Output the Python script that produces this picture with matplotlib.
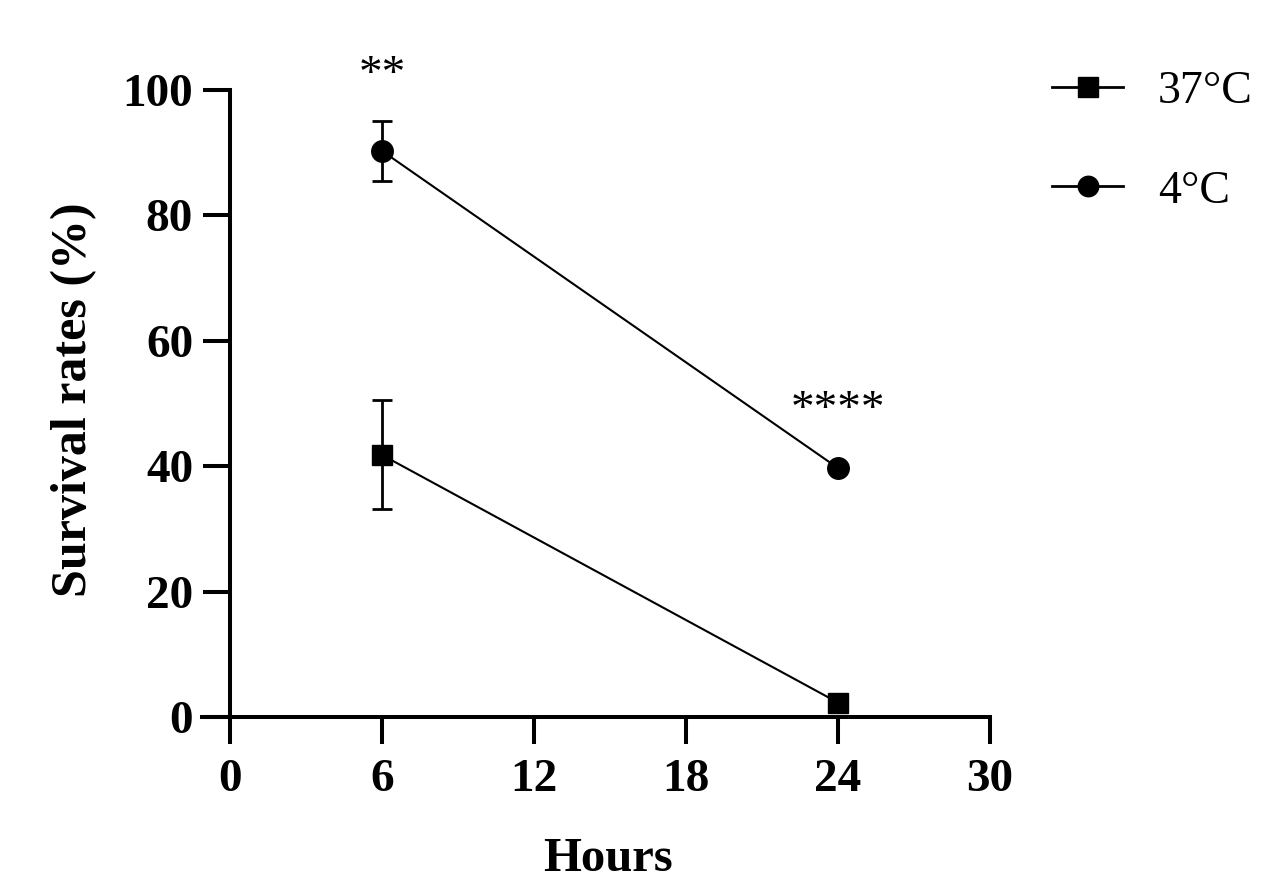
import matplotlib
matplotlib.use("Agg")
import matplotlib.pyplot as plt
import numpy as np

hours = [6, 24]
s37_mean = [41.8, 2.3]
s37_err = [8.7, 0.0]
s4_mean = [90.3, 39.7]
s4_err = [4.8, 0.0]
labels = ["37°C", "4°C"]
xticks = [0, 6, 12, 18, 24, 30]
yticks = [0, 20, 40, 60, 80, 100]
sig_x = [6, 24]
sig_y = [102.3, 48.8]
sig_text = ["**", "****"]

dpi = 100
fig = plt.figure(figsize=(12.88, 8.8), dpi=dpi)
ax = fig.add_axes([202/1288, 1-717/880, (990-202)/1288, (717-90)/880])

serif = "Liberation Serif"
lw_axis = 2.9

c37 = ax.errorbar(hours, s37_mean, yerr=s37_err, color="black", marker="s", markersize=15,
                  linewidth=1.5, elinewidth=2.0, capsize=7, capthick=2.0, zorder=3)
c4 = ax.errorbar(hours, s4_mean, yerr=s4_err, color="black", marker="o", markersize=15.5,
                 linewidth=1.5, elinewidth=2.0, capsize=7, capthick=2.0, zorder=3)

for x, y, t in zip(sig_x, sig_y, sig_text):
    ax.text(x, y, t, ha="center", va="center", fontsize=34, family=serif)

ax.set_xlim(-1.1, 30)
ax.set_ylim(0, 100)
ax.set_xticks(xticks)
ax.set_yticks(yticks)
ax.spines["top"].set_visible(False)
ax.spines["right"].set_visible(False)
ax.spines["left"].set_position(("data", 0))
for s in ["left", "bottom"]:
    ax.spines[s].set_linewidth(lw_axis)
    ax.spines[s].set_capstyle("projecting")
ax.tick_params(direction="out", length=19.5, width=lw_axis)
ax.tick_params(axis="y", pad=7)
ax.tick_params(axis="x", pad=11)
for lab in ax.get_xticklabels() + ax.get_yticklabels():
    lab.set_fontfamily(serif)
    lab.set_fontweight("bold")
    lab.set_fontsize(34)

ax.set_xlabel("Hours", fontsize=35, fontweight="bold", family=serif)
ax.set_ylabel("Survival rates (%)", fontsize=36, fontweight="bold", family=serif)
ax.xaxis.set_label_coords((608-202)/(990-202), -(837-717)/(717-90))
ax.yaxis.set_label_coords(-(202-97)/(990-202), (717-400)/(717-90))

leg = fig.legend([c37[0], c4[0]], labels, loc="upper left", bbox_to_anchor=(1011/1288, 1-29/880),
                 frameon=False, prop={"family": serif, "size": 33}, handlelength=1.55,
                 handletextpad=0.75, labelspacing=1.25, markerscale=0.95)
for ln in leg.get_lines():
    ln.set_linewidth(2.0)

fig.savefig("out.png", dpi=dpi)
